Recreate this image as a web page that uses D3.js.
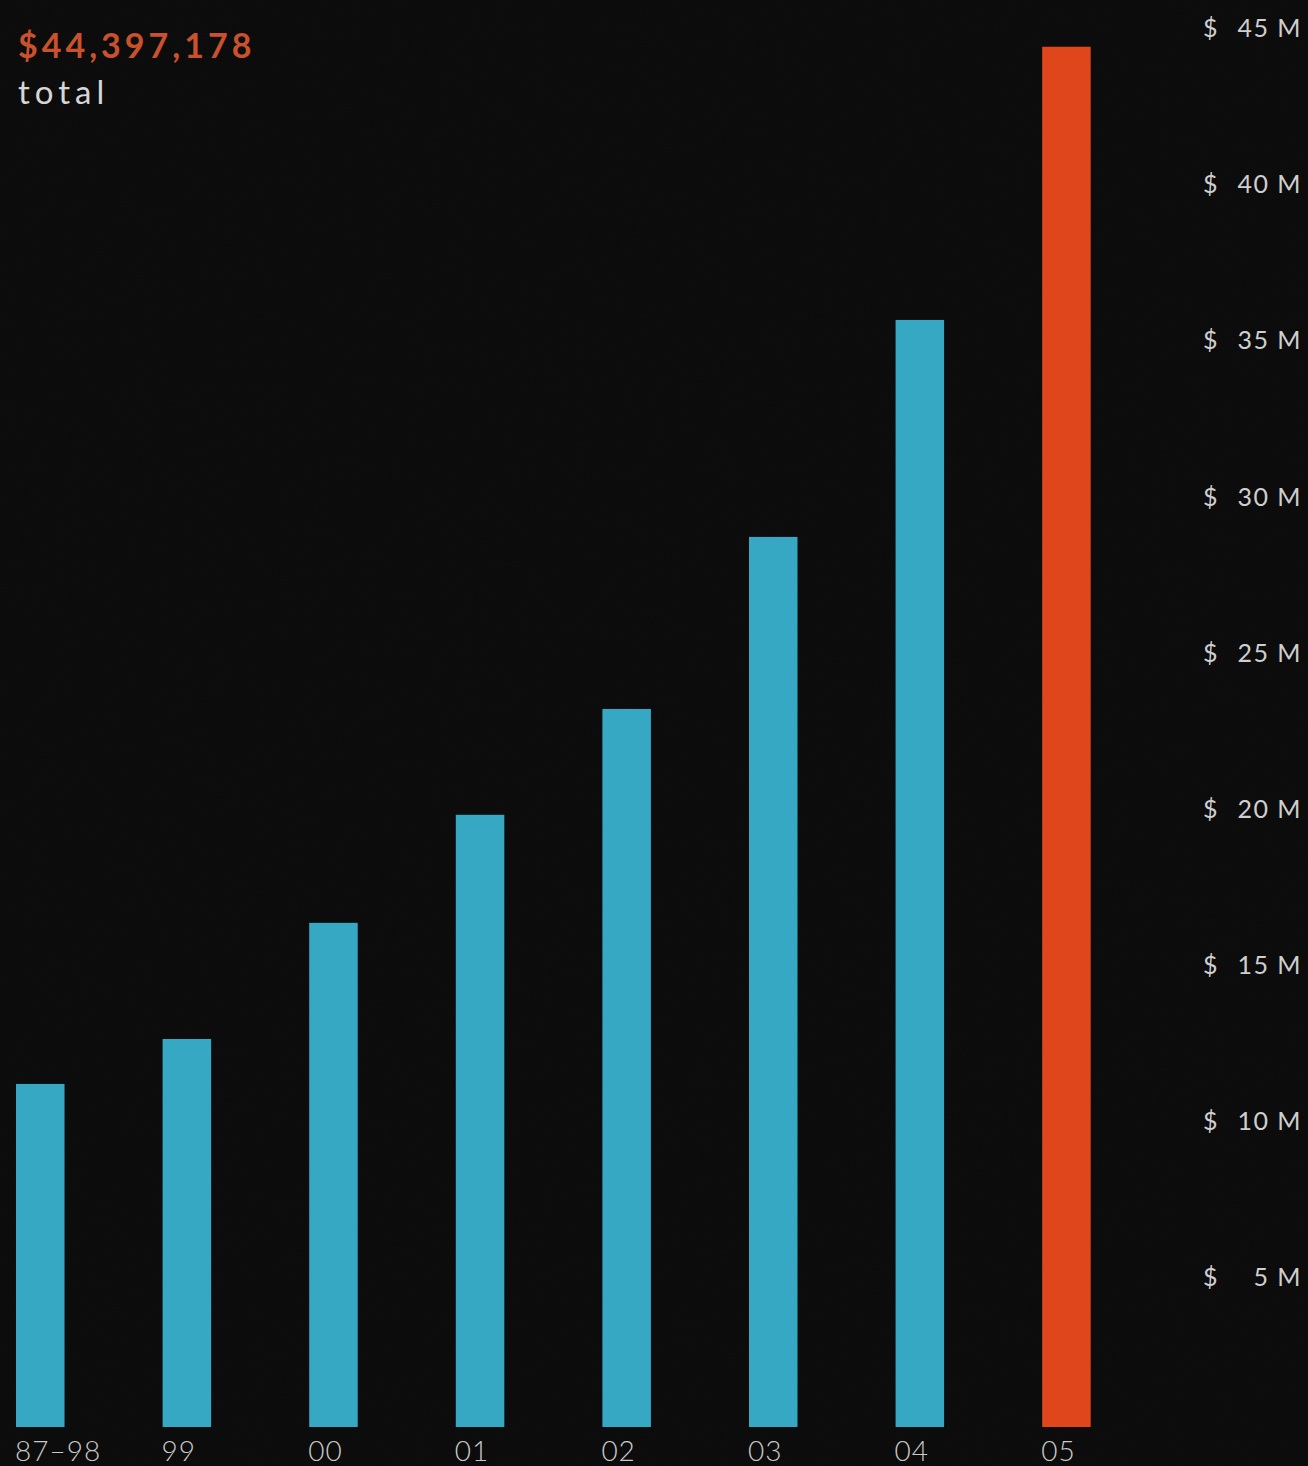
<!DOCTYPE html>
<html>
<head>
<meta charset="utf-8">
<script src="https://cdn.jsdelivr.net/npm/d3@7"></script>
<style>
  html, body { margin: 0; padding: 0; background: #0a0a0a; }
  svg { display: block; }
</style>
</head>
<body>
<script>
const categories = ["87–98", "99", "00", "01", "02", "03", "04", "05"];
const values = [11.18, 12.62, 16.34, 19.8, 23.19, 28.7, 35.65, 44.4]; // $ millions
const highlight = "05";
const yTicks = [5, 10, 15, 20, 25, 30, 35, 40, 45];
const totalLabel = "$44,397,178";
const totalCaption = "total";

const W = 1308, H = 1466;
const svg = d3.select("body").append("svg").attr("width", W).attr("height", H);

// background with subtle grain
const defs = svg.append("defs");
const f = defs.append("filter").attr("id", "grain").attr("x", 0).attr("y", 0).attr("width", "100%").attr("height", "100%");
f.append("feTurbulence").attr("type", "fractalNoise").attr("baseFrequency", 0.9).attr("numOctaves", 2).attr("seed", 3).attr("result", "n");
f.append("feColorMatrix").attr("type", "matrix")
  .attr("values", "0 0 0 0 0.25  0 0 0 0 0.25  0 0 0 0 0.25  0 0 0 0.12 0");
svg.append("rect").attr("width", W).attr("height", H).attr("fill", "#0a0a0a");
svg.append("rect").attr("width", W).attr("height", H).attr("filter", "url(#grain)").attr("opacity", 0.35);

const x = d3.scaleBand().domain(categories).range([16, 1090.7]).paddingInner(0.669).paddingOuter(0).align(0);
const y = d3.scaleLinear().domain([0, 45]).range([1433, 28]);
const barBottom = 1427;

svg.append("g").selectAll("rect").data(categories).join("rect")
  .attr("x", d => x(d))
  .attr("width", x.bandwidth())
  .attr("y", (d, i) => y(values[i]))
  .attr("height", (d, i) => barBottom - y(values[i]))
  .attr("fill", d => d === highlight ? "#e0461b" : "#37a8c4");

// x labels
svg.append("g").selectAll("text").data(categories).join("text")
  .attr("x", d => x(d) - 1)
  .attr("y", 1461)
  .attr("fill", "#c9c9c9")
  .attr("font-family", "Lato, 'Open Sans', sans-serif")
  .attr("font-weight", 300)
  .attr("font-size", 28)
  .attr("letter-spacing", 1)
  .text(d => d);

// y axis on right
const yAxis = d3.axisRight(y).tickValues(yTicks).tickSize(0).tickPadding(0)
  .tickFormat(d => d + " M");
const ga = svg.append("g").attr("transform", "translate(1302,0)").call(yAxis);
ga.select(".domain").remove();
ga.selectAll("text")
  .attr("text-anchor", "end")
  .attr("x", 0)
  .attr("dy", "0.35em")
  .attr("fill", "#cfcfcf")
  .attr("font-family", "Lato, 'Open Sans', sans-serif")
  .attr("font-weight", 400)
  .attr("font-size", 25)
  .attr("letter-spacing", 1.5);
ga.selectAll(".tick").append("text")
  .attr("x", -99)
  .attr("dy", "0.35em")
  .attr("text-anchor", "start")
  .attr("fill", "#cfcfcf")
  .attr("font-family", "Lato, 'Open Sans', sans-serif")
  .attr("font-size", 25)
  .text("$");

// title
svg.append("text").attr("x", 18).attr("y", 58)
  .attr("fill", "#c9522c")
  .attr("font-family", "Lato, 'Open Sans', sans-serif")
  .attr("font-weight", 700)
  .attr("font-size", 34)
  .attr("letter-spacing", 4)
  .text(totalLabel);
svg.append("text").attr("x", 18).attr("y", 104)
  .attr("fill", "#d6d6d6")
  .attr("font-family", "Lato, 'Open Sans', sans-serif")
  .attr("font-weight", 400)
  .attr("font-size", 33)
  .attr("letter-spacing", 5)
  .text(totalCaption);
</script>
</body>
</html>
